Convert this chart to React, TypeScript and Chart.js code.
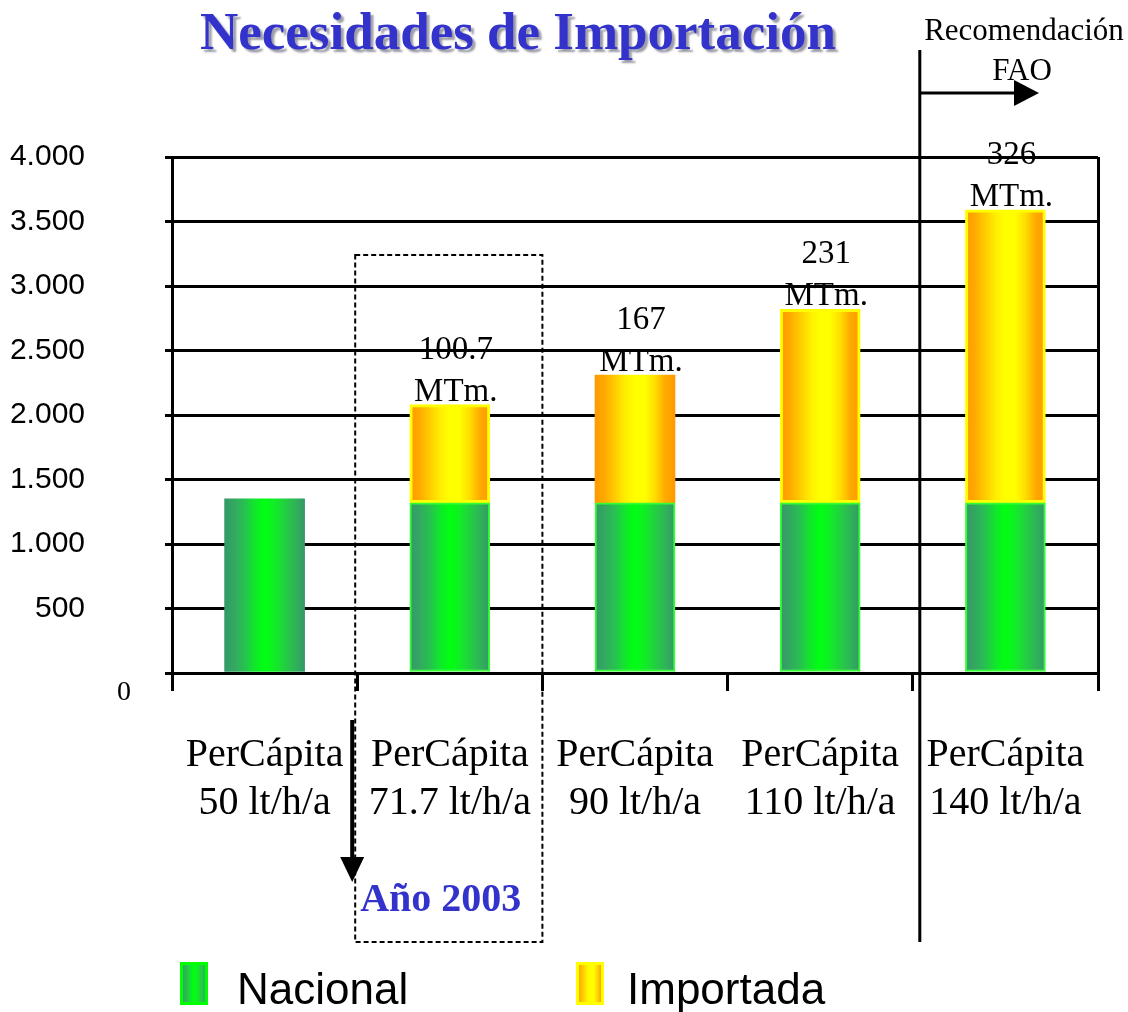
import { useEffect, useRef } from 'react';
import { Chart, registerables } from 'chart.js';

Chart.register(...registerables);

// ---- data ----
const categories: string[][] = [
  ['PerCápita', '50 lt/h/a'],
  ['PerCápita', '71.7 lt/h/a'],
  ['PerCápita', '90 lt/h/a'],
  ['PerCápita', '110 lt/h/a'],
  ['PerCápita', '140 lt/h/a'],
];
const nacional: (number | null)[] = [1350, 1320, 1320, 1320, 1320];
const importada: (number | null)[] = [null, 760, 990, 1500, 2270];
const importLabels: string[] = ['', '100.7', '167', '231', '326'];
const importUnit = 'MTm.';
const seriesNames = ['Nacional', 'Importada'];
const titleText = 'Necesidades de Importación';
const highlightText = 'Año 2003';
const faoText = ['Recomendación', 'FAO'];
const highlightIndex = 1;
const faoIndex = 4;
const yMax = 4000;
const yStep = 500;

const greenStops: [number, string][] = [
  [0, '#339966'], [0.12, '#33a862'], [0.25, '#27c14f'], [0.38, '#10e82a'],
  [0.5, '#00ff11'], [0.62, '#10ee25'], [0.75, '#22d040'], [0.88, '#2fb358'], [1, '#339966'],
];
const orangeStops: [number, string][] = [
  [0, '#ff9900'], [0.12, '#ffaa00'], [0.25, '#ffcc00'], [0.38, '#ffee00'],
  [0.5, '#ffff00'], [0.62, '#ffff00'], [0.75, '#ffdd00'], [0.88, '#ffaa00'], [1, '#ff9900'],
];

function fmt(v: number): string {
  if (v === 0) return '';
  if (v >= 1000) return `${Math.floor(v / 1000)}.${String(v % 1000).padStart(3, '0')}`;
  return String(v);
}

export default function App() {
  const ref = useRef<HTMLCanvasElement>(null);

  useEffect(() => {
    const canvas = ref.current!;
    const barHalf = 40;
    const SERIF = '"Liberation Serif", "Times New Roman", serif';
    const SANS = '"Liberation Sans", Arial, sans-serif';

    const makeGrad = (c2d: CanvasRenderingContext2D, x0: number, x1: number, stops: [number, string][]) => {
      const g = c2d.createLinearGradient(x0, 0, x1, 0);
      stops.forEach(([o, c]) => g.addColorStop(o, c));
      return g;
    };
    const barGrad = (chart: any, i: number, stops: [number, string][]) => {
      const xs = chart.scales?.x;
      if (!xs) return stops[4][1];
      const cx = xs.getPixelForValue(i);
      if (!Number.isFinite(cx)) return stops[4][1];
      return makeGrad(chart.ctx, cx - barHalf, cx + barHalf, stops);
    };

    const overlay = {
      id: 'overlay',
      afterDraw(chart: any) {
        const { ctx } = chart;
        const xs = chart.scales.x;
        const ys = chart.scales.y;
        const y0 = ys.getPixelForValue(0);
        const border = (i: number) => (xs.getPixelForValue(i) + xs.getPixelForValue(i + 1)) / 2;
        ctx.save();

        // title
        ctx.font = `bold 53px ${SERIF}`;
        ctx.textAlign = 'center';
        ctx.textBaseline = 'alphabetic';
        ctx.shadowColor = 'rgba(90,90,110,0.6)';
        ctx.shadowOffsetX = 3;
        ctx.shadowOffsetY = 3;
        ctx.shadowBlur = 2;
        ctx.fillStyle = '#3333cc';
        ctx.fillText(titleText, 518, 49);
        ctx.shadowColor = 'transparent';
        ctx.shadowOffsetX = 0;
        ctx.shadowOffsetY = 0;
        ctx.shadowBlur = 0;

        // zero label
        ctx.fillStyle = '#000';
        ctx.font = `28px ${SERIF}`;
        ctx.fillText('0', 124, y0 + 27);

        // import annotations
        ctx.font = `33px ${SERIF}`;
        const meta = chart.getDatasetMeta(1);
        importLabels.forEach((t, i) => {
          if (!t) return;
          const el = meta.data[i];
          if (!el) return;
          const top = el.y;
          const cx = xs.getPixelForValue(i) + 6;
          ctx.fillText(importUnit, cx, top - 4);
          ctx.fillText(t, cx, top - 46);
        });

        // dashed highlight box
        const hx0 = border(highlightIndex - 1) - 2;
        const hx1 = border(highlightIndex);
        ctx.strokeStyle = '#000';
        ctx.lineWidth = 2;
        ctx.setLineDash([5, 3]);
        ctx.strokeRect(hx0, 255, hx1 - hx0, 942 - 255);
        ctx.setLineDash([]);

        // down arrow
        const ax = hx0 - 3;
        ctx.lineWidth = 4;
        ctx.beginPath();
        ctx.moveTo(ax, 720);
        ctx.lineTo(ax, 860);
        ctx.stroke();
        ctx.fillStyle = '#000';
        ctx.beginPath();
        ctx.moveTo(ax - 12, 857);
        ctx.lineTo(ax + 12, 857);
        ctx.lineTo(ax, 882);
        ctx.closePath();
        ctx.fill();

        // Año 2003
        ctx.font = `bold 40px ${SERIF}`;
        ctx.textAlign = 'left';
        ctx.fillStyle = '#3333cc';
        ctx.fillText(highlightText, hx0 + 5, 911);

        // FAO separator
        const fx = border(faoIndex - 1) + 7;
        ctx.strokeStyle = '#000';
        ctx.lineWidth = 3;
        ctx.beginPath();
        ctx.moveTo(fx, 50);
        ctx.lineTo(fx, 942);
        ctx.stroke();
        ctx.beginPath();
        ctx.moveTo(fx, 93);
        ctx.lineTo(1016, 93);
        ctx.stroke();
        ctx.fillStyle = '#000';
        ctx.beginPath();
        ctx.moveTo(1014, 80);
        ctx.lineTo(1039, 93);
        ctx.lineTo(1014, 106);
        ctx.closePath();
        ctx.fill();
        ctx.font = `31px ${SERIF}`;
        ctx.textAlign = 'center';
        ctx.fillText(faoText[0], 1024, 40);
        ctx.fillText(faoText[1], 1022, 80);

        // legend
        const legendItems = [
          { bx: 180, tx: 237, stops: greenStops, border: '#00ff00' },
          { bx: 576, tx: 627, stops: orangeStops, border: '#ffff00' },
        ];
        ctx.font = `44px ${SANS}`;
        ctx.textAlign = 'left';
        legendItems.forEach((it, i) => {
          const w = 28;
          const h = 43;
          const by = 962;
          ctx.fillStyle = makeGrad(ctx, it.bx, it.bx + w, it.stops);
          ctx.fillRect(it.bx, by, w, h);
          ctx.strokeStyle = it.border;
          ctx.lineWidth = 3;
          ctx.strokeRect(it.bx + 1.5, by + 1.5, w - 3, h - 3);
          ctx.fillStyle = '#000';
          ctx.fillText(chart.data.datasets[i].label || seriesNames[i], it.tx, 1004);
        });

        ctx.restore();
      },
    };

    const chart = new Chart(canvas, {
      type: 'bar',
      data: {
        labels: categories as any,
        datasets: [
          {
            label: seriesNames[0],
            data: nacional,
            backgroundColor: (c: any) => barGrad(c.chart, c.dataIndex, greenStops),
            borderColor: '#33ff33',
            borderWidth: (c: any) => (c.dataIndex === 0 ? 0 : 2),
            borderSkipped: false,
            barThickness: 80,
          } as any,
          {
            label: seriesNames[1],
            data: importada,
            backgroundColor: (c: any) => barGrad(c.chart, c.dataIndex, orangeStops),
            borderColor: '#ffff00',
            borderWidth: (c: any) => (c.dataIndex === 2 ? 0 : 3),
            borderSkipped: false,
            barThickness: 80,
          } as any,
        ],
      },
      options: {
        responsive: false,
        animation: false,
        devicePixelRatio: 1,
        layout: { padding: { top: 157, right: 30, bottom: 0, left: 0 } },
        plugins: {
          legend: { display: false },
          title: { display: false },
          tooltip: { enabled: false },
        },
        scales: {
          x: {
            stacked: true,
            grid: {
              offset: true,
              drawOnChartArea: true,
              color: (c: any) => (c.index === 0 || c.index === undefined ? '#000' : 'rgba(0,0,0,0)'),
              lineWidth: 3,
              tickLength: 18,
              tickColor: '#000',
              tickWidth: 3,
            },
            border: { display: true, color: '#000', width: 3 },
            ticks: {
              color: '#000',
              font: { family: SERIF, size: 40, lineHeight: 1.2 },
              padding: 40,
              maxRotation: 0,
              autoSkip: false,
            },
            afterFit: (s: any) => {
              s.height = 1012 - 673;
            },
          },
          y: {
            stacked: true,
            min: 0,
            max: yMax,
            ticks: {
              stepSize: yStep,
              color: '#000',
              padding: 80,
              font: { family: SANS, size: 30 },
              callback: (v: any) => fmt(Number(v)),
            },
            grid: {
              color: '#000',
              lineWidth: 3,
              tickLength: 7,
              tickColor: '#000',
              tickWidth: 3,
            },
            border: { display: true, color: '#000', width: 3 },
            afterFit: (s: any) => {
              s.width = 172;
            },
          },
        },
      } as any,
      plugins: [overlay],
    });

    return () => chart.destroy();
  }, []);

  return (
    <div style={{ position: 'fixed', left: 0, top: 0, width: 1128, height: 1012, background: '#fff' }}>
      <canvas ref={ref} width={1128} height={1012} style={{ display: 'block', width: 1128, height: 1012 }} />
    </div>
  );
}
